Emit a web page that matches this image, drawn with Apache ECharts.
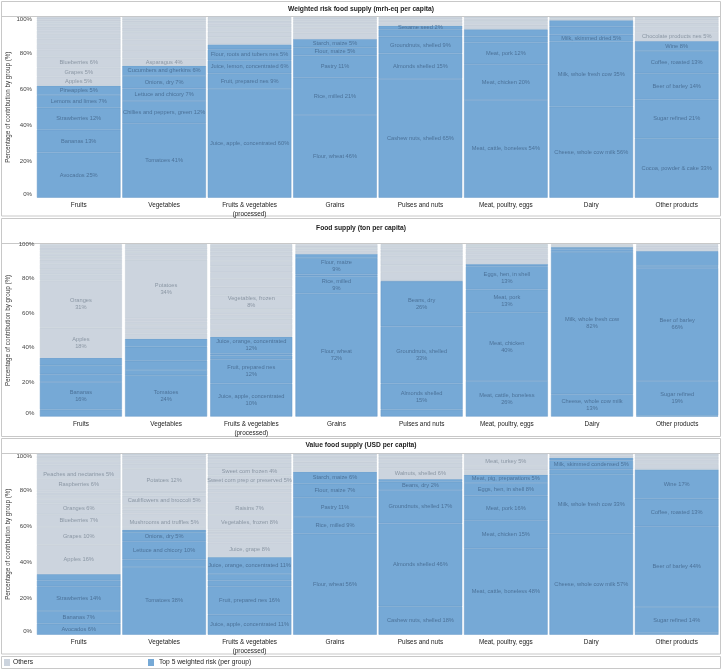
<!DOCTYPE html>
<html><head><meta charset="utf-8">
<script src="https://cdn.jsdelivr.net/npm/echarts@6/dist/echarts.min.js"></script>
<style>html,body{margin:0;padding:0;background:#fff}#c{width:722px;height:670px}</style>
</head><body><div id="c"></div>
<script>
const categories = ['Fruits','Vegetables','Fruits & vegetables\n(processed)','Grains','Pulses and nuts','Meat, poultry, eggs','Dairy','Other products'];
const panelTitles = ['Weighted risk food supply (mrh-eq per capita)','Food supply (ton per capita)','Value food supply (USD per capita)'];
const yTicks = [0,20,40,60,80,100];
const legendLabels = ['Others','Top 5 weighted risk (per group)'];

// ---- Panel 1: weighted risk ----
const riskBlueNames = [
 ['Avocados 25%','Bananas 13%','Strawberries 12%','Lemons and limes 7%','Pineapples 5%'],
 ['Tomatoes 41%','Chillies and peppers, green 12%','Lettuce and chicory 7%','Onions, dry 7%','Cucumbers and gherkins 6%'],
 ['Juice, apple, concentrated 60%','Fruit, prepared nes 9%','Juice, lemon, concentrated 6%','Flour, roots and tubers nes 5%',''],
 ['Flour, wheat 46%','Rice, milled 21%','Pastry 11%','Flour, maize 5%','Starch, maize 5%'],
 ['Cashew nuts, shelled 65%','Almonds shelled 15%','Groundnuts, shelled 9%','','Sesame seed 2%'],
 ['Meat, cattle, boneless 54%','Meat, chicken 20%','Meat, pork 12%','',''],
 ['Cheese, whole cow milk 56%','Milk, whole fresh cow 35%','Milk, skimmed dried 5%','',''],
 ['Cocoa, powder & cake 33%','Sugar refined 21%','Beer of barley 14%','Coffee, roasted 13%','Wine 8%']
];
const riskBlueValues = [
 [25,12.6,12.1,7,5.2],
 [41.1,12.3,7,6.8,5.7],
 [60,8.7,7.2,6.1,2.7],
 [45.7,20.6,12.3,4.5,4.6],
 [65.6,14.1,9.3,4,2],
 [54,19.7,12.1,3.2,4],
 [50.3,36,3.7,4.5,3.5],
 [32.8,21.5,14.4,12.3,5.6]
];
const riskGreyNames = [
 ['Apples 5%','Grapes 5%','Blueberries 6%'],
 ['Asparagus 4%'],
 [], [], [], [], [],
 ['Chocolate products nes 5%']
];
const riskGreyValues = [
 [5,5,6,4,3,3,2.5,2,2,1.5,1.5,1,1,0.5],
 [4,4,3.5,3,2.5,2,2,1.5,1.5,1,1,1],
 [4,3,2.5,2,1.5,1,0.8,0.5],
 [3.5,2.5,2,1.5,1.2,1,0.6],
 [2,1.5,1,0.5],
 [2.5,2,1.5,1],
 [1.2,0.8],
 [5,3,2,1.5,1,0.9]
];

// ---- Panel 2: food supply (ton) ----
const supplyBlueNames = [
 ['','Bananas\n16%','','',''],
 ['Tomatoes\n24%','','','',''],
 ['Juice, apple, concentrated\n10%','Fruit, prepared nes\n12%','','','Juice, orange, concentrated\n12%'],
 ['Flour, wheat\n72%','Rice, milled\n9%','','Flour, maize\n9%',''],
 ['','Almonds shelled\n15%','Groundnuts, shelled\n33%','Beans, dry\n26%',''],
 ['Meat, cattle, boneless\n26%','Meat, chicken\n40%','Meat, pork\n13%','Eggs, hen, in shell\n13%',''],
 ['Cheese, whole cow milk\n13%','Milk, whole fresh cow\n82%','','',''],
 ['','Sugar refined\n19%','Beer of barley\n66%','','']
];
const supplyBlueValues = [
 [4.1,16,4.5,5.2,4.3],
 [24,3.1,5.3,8.1,4.7],
 [19.2,14.1,2.2,1,9.8],
 [71.5,10,1,9.5,2.4],
 [4.1,15.1,33.3,26,0.4],
 [20.7,39.8,13.3,13.5,1.3],
 [13,82.5,1.5,0.8,0.6],
 [0.5,20.2,65.6,1.1,8.7]
];
const supplyGreyNames = [
 ['Apples\n18%','Oranges\n31%'],
 ['','','','','','Potatoes\n34%'],
 ['','','','','','','Vegetables, frozen\n8%'],
 [], [], [], [], []
];
const supplyGreyValues = [
 [17.4,27.5,3.5,3,3,2.5,2,2,1.5,1.5,1,1],
 [3,2.5,2.5,2,1.8,34,2.5,2,1.5,1.5,1,0.5],
 [4,3.5,3,2.5,2,1,8,5,4.5,4,3.5,3,3,2.5,2,1.2,1],
 [2,1.5,1.2,0.9],
 [5,4,3,2.5,2,1.6,1.5,1,0.5],
 [3,2.5,2,1.5,1.2,0.7,0.5],
 [1,0.6],
 [2,1.2,0.7]
];

// ---- Panel 3: value (USD) ----
const valueBlueNames = [
 ['Avocados 6%','Bananas 7%','Strawberries 14%','',''],
 ['Tomatoes 38%','','Lettuce and chicory 10%','Onions, dry 5%',''],
 ['Juice, apple, concentrated 11%','Fruit, prepared nes 16%','','','Juice, orange, concentrated 11%'],
 ['Flour, wheat 56%','Rice, milled 9%','Pastry 11%','Flour, maize 7%','Starch, maize 6%'],
 ['Cashew nuts, shelled 18%','Almonds shelled 46%','Groundnuts, shelled 17%','Beans, dry 2%',''],
 ['Meat, cattle, boneless 48%','Meat, chicken 15%','Meat, pork 16%','Eggs, hen, in shell 8%','Meat, pig, preparations 5%'],
 ['Cheese, whole cow milk 57%','Milk, whole fresh cow 33%','','Milk, skimmed condensed 5%',''],
 ['','Sugar refined 14%','Beer of barley 44%','Coffee, roasted 13%','Wine 17%']
];
const valueBlueValues = [
 [6.1,7,13.6,3.3,3.5],
 [37.4,4.2,10,5,1.4],
 [11,15.7,3.3,3.5,9.4],
 [55.8,9.2,10.9,7.5,6.6],
 [15.7,45.8,18.5,4.5,1.5],
 [47.7,15.5,13.6,7,4.6],
 [55.8,32.8,2.8,5,1.4],
 [0.9,14.4,44.6,15.2,16.2]
];
const valueGreyNames = [
 ['Apples 16%','Grapes 10%','Blueberries 7%','Oranges 6%','','','','','Raspberries 6%','Peaches and nectarines 5%'],
 ['','Mushrooms and truffles 5%','','','','','Cauliflowers and broccoli 5%','','','Potatoes 12%'],
 ['Juice, grape 8%','','','','','Vegetables, frozen 8%','Raisins 7%','','','','','','Sweet corn prep or preserved 5%','Sweet corn frozen 4%'],
 [],
 ['Walnuts, shelled 6%'],
 ['','','Meat, turkey 5%'],
 [],
 []
];
const valueGreyValues = [
 [16,10,7,6,2.5,2,1.5,1.5,6,5,3,2,1.5,1.5,1],
 [1.5,5,2.5,2,1.5,1.2,5,1.5,1.3,12,3,2,1.5,1,1],
 [8,2.5,2,1.5,1.2,8,7,3,2.5,2,1.5,0.9,5,4,3,2,1.5,1,0.5],
 [3,2.5,2,1.5,1],
 [6,3,2,1.5,1.5],
 [2.5,2.3,5,1.8],
 [1.2,1],
 [3,2.5,1.7,1.5]
];

const BLUE = '#76a9d6', BLUE_LINE = '#6699c6', BLUE_TXT = '#4c7299';
const GREY = '#ccd4de', GREY_LINE = '#bfc8d3', GREY_TXT = '#8b97a4';
const FONT = '"Liberation Sans", Arial, Helvetica, sans-serif';

const panels = [
 {bn: riskBlueNames, bv: riskBlueValues, gn: riskGreyNames, gv: riskGreyValues, top: 16.7, h: 181, left: 36, right: 2.6, bw: 83.6, maxTop: true},
 {bn: supplyBlueNames, bv: supplyBlueValues, gn: supplyGreyNames, gv: supplyGreyValues, top: 244.3, h: 172.3, left: 38.3, right: 2.2, bw: 82, maxTop: false},
 {bn: valueBlueNames, bv: valueBlueValues, gn: valueGreyNames, gv: valueGreyValues, top: 453.7, h: 181, left: 36, right: 2.6, bw: 83.6, maxTop: true}
];

const grids = [], xAxes = [], yAxes = [], series = [];
panels.forEach((P, p) => {
  grids.push({left: P.left, right: P.right, top: P.top, height: P.h, containLabel: false, outerBoundsMode: 'none'});
  xAxes.push({gridIndex: p, type: 'category', data: categories,
    axisLine: {show: false}, axisTick: {show: false},
    axisLabel: {interval: 0, fontSize: 6.4, color: '#222', margin: 3.5, lineHeight: 8.5, fontFamily: FONT}});
  yAxes.push({gridIndex: p, type: 'value', min: yTicks[0], max: yTicks[yTicks.length-1], interval: 20,
    axisLine: {show: false}, axisTick: {show: false}, splitLine: {show: false},
    axisLabel: {formatter: '{value}%', fontSize: 6.1, color: '#444', margin: 4, fontFamily: FONT,
      verticalAlignMinLabel: 'bottom', verticalAlignMaxLabel: P.maxTop ? 'top' : null},
    name: 'Percentage of contribution by group (%)', nameLocation: 'middle', nameMoveOverlap: false,
    nameGap: 25 + (P.left - 36),
    nameTextStyle: {fontSize: 6.3, color: '#333', fontFamily: FONT}});
  const segs = categories.map((c, i) => {
    const arr = [];
    P.bv[i].forEach((v, j) => arr.push({value: v, txt: P.bn[i][j] || '', blue: true}));
    P.gv[i].forEach((v, j) => arr.push({value: v, txt: P.gn[i][j] || '', blue: false}));
    return arr;
  });
  const maxLen = Math.max(...segs.map(s => s.length));
  for (let k = 0; k < maxLen; k++) {
    series.push({
      type: 'bar', xAxisIndex: p, yAxisIndex: p, stack: 'st' + p, barWidth: P.bw, silent: true,
      label: {show: true, position: 'inside', fontSize: 5.7, lineHeight: 7, fontFamily: FONT,
        formatter: q => (q.data && q.data.txt) || ''},
      data: segs.map(s => {
        const d = s[k];
        if (!d) return '-';
        return {value: d.value, txt: d.txt,
          itemStyle: {color: d.blue ? BLUE : GREY, borderColor: d.blue ? BLUE_LINE : GREY_LINE, borderWidth: 0.5},
          label: {color: d.blue ? BLUE_TXT : GREY_TXT}};
      })
    });
  }
});

const frameStroke = '#c8c8c8';
const graphic = [
  {type: 'rect', shape: {x: 1.5, y: 1.5, width: 719, height: 214.5}, style: {fill: 'none', stroke: frameStroke, lineWidth: 1}, z: -1},
  {type: 'line', shape: {x1: 1.5, y1: 16.5, x2: 720.5, y2: 16.5}, style: {stroke: frameStroke, lineWidth: 1}, z: -1},
  {type: 'rect', shape: {x: 1.5, y: 218.5, width: 719, height: 218}, style: {fill: 'none', stroke: frameStroke, lineWidth: 1}, z: -1},
  {type: 'line', shape: {x1: 1.5, y1: 243.5, x2: 720.5, y2: 243.5}, style: {stroke: frameStroke, lineWidth: 1}, z: -1},
  {type: 'rect', shape: {x: 1.5, y: 438.5, width: 719, height: 215.5}, style: {fill: 'none', stroke: frameStroke, lineWidth: 1}, z: -1},
  {type: 'line', shape: {x1: 1.5, y1: 453.5, x2: 720.5, y2: 453.5}, style: {stroke: frameStroke, lineWidth: 1}, z: -1},
  {type: 'text', x: 361, y: 9, style: {text: panelTitles[0], fontSize: 6.7, fontWeight: 'bold', fill: '#222', align: 'center', verticalAlign: 'middle', fontFamily: FONT}},
  {type: 'text', x: 361, y: 228, style: {text: panelTitles[1], fontSize: 6.7, fontWeight: 'bold', fill: '#222', align: 'center', verticalAlign: 'middle', fontFamily: FONT}},
  {type: 'text', x: 361, y: 445.5, style: {text: panelTitles[2], fontSize: 6.7, fontWeight: 'bold', fill: '#222', align: 'center', verticalAlign: 'middle', fontFamily: FONT}},
  {type: 'rect', shape: {x: 1.5, y: 656.5, width: 719, height: 12}, style: {fill: 'none', stroke: frameStroke, lineWidth: 1}},
  {type: 'rect', shape: {x: 4, y: 659, width: 6, height: 7}, style: {fill: GREY}},
  {type: 'text', x: 13, y: 662.5, style: {text: legendLabels[0], fontSize: 6.7, fill: '#222', verticalAlign: 'middle', fontFamily: FONT}},
  {type: 'rect', shape: {x: 148, y: 659, width: 6, height: 7}, style: {fill: BLUE}},
  {type: 'text', x: 159, y: 662.5, style: {text: legendLabels[1], fontSize: 6.7, fill: '#222', verticalAlign: 'middle', fontFamily: FONT}}
];

const chart = echarts.init(document.getElementById('c'), null, {renderer: 'canvas'});
chart.setOption({animation: false, backgroundColor: '#fff', grid: grids, xAxis: xAxes, yAxis: yAxes, series: series, graphic: graphic});
</script></body></html>
